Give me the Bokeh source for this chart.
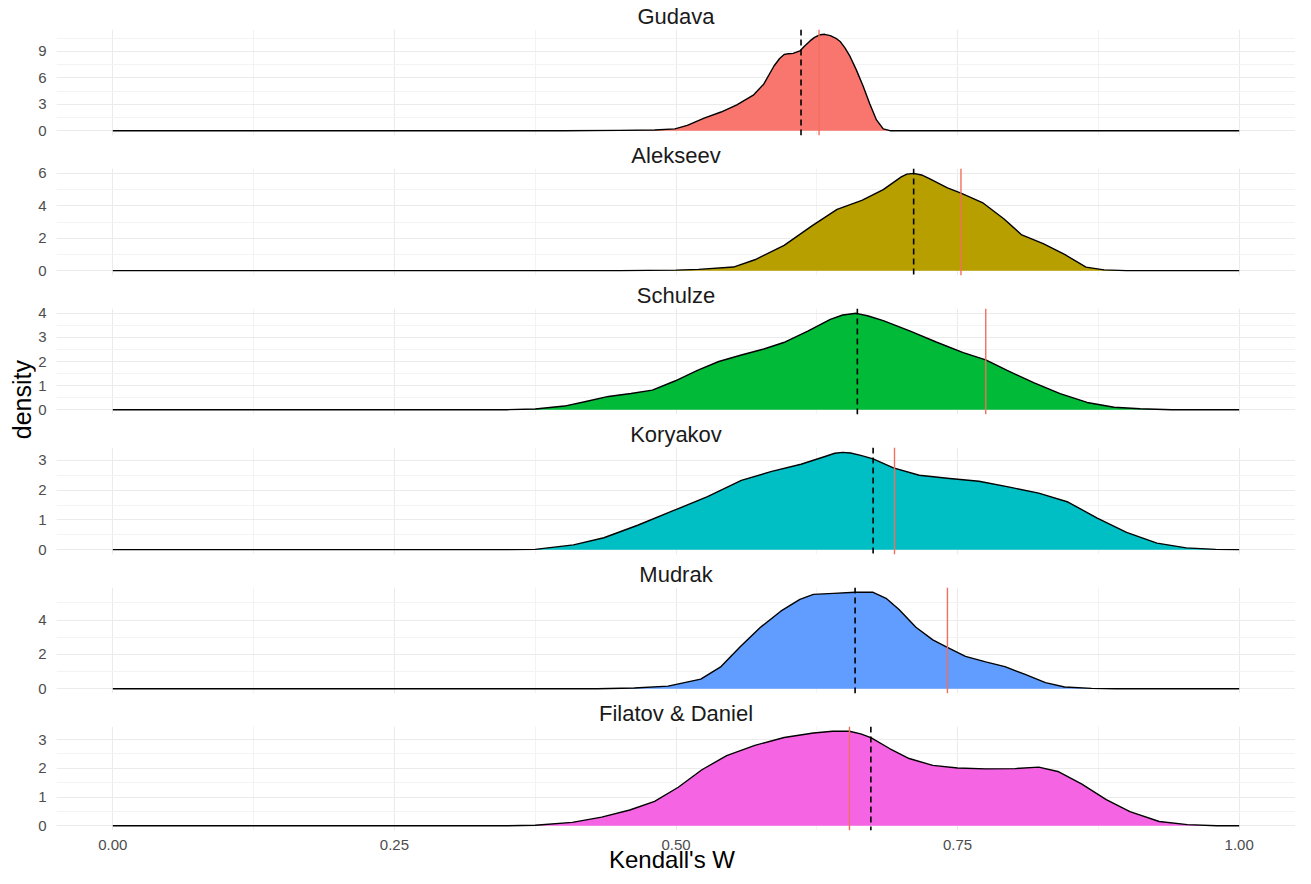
from bokeh.plotting import figure
from bokeh.layouts import row, column
from bokeh.models import Range1d, FixedTicker, Grid, Span, Div
from bokeh.embed import file_html
from bokeh.resources import INLINE

# ---------------- data ----------------
panel_names = ["Gudava", "Alekseev", "Schulze", "Koryakov", "Mudrak", "Filatov & Daniel"]
fill_colors = ["#F8766D", "#B79F00", "#00BA38", "#00BFC4", "#619CFF", "#F564E3"]

gudava_x = [0.0, 0.40, 0.45, 0.481, 0.499, 0.510, 0.525, 0.540, 0.554, 0.569, 0.578, 0.587, 0.592, 0.596,
            0.600, 0.604, 0.610, 0.614, 0.619, 0.623, 0.628, 0.632, 0.637, 0.642, 0.646, 0.650, 0.654,
            0.660, 0.666, 0.672, 0.678, 0.684, 0.690, 1.0]
gudava_y = [0.0, 0.0, 0.03, 0.08, 0.2, 0.61, 1.43, 2.12, 2.94, 4.08, 5.31, 7.35, 8.2, 8.65,
            8.75, 8.78, 9.06, 9.6, 10.2, 10.6, 10.9, 10.95, 10.8, 10.5, 10.1, 9.4, 8.57,
            6.94, 5.1, 3.06, 1.22, 0.2, 0.0, 0.0]

alekseev_x = [0.0, 0.45, 0.50, 0.52, 0.551, 0.570, 0.596, 0.621, 0.643, 0.665, 0.684, 0.700, 0.705, 0.711,
              0.718, 0.725, 0.741, 0.753, 0.772, 0.791, 0.807, 0.826, 0.845, 0.864, 0.88, 0.90, 1.0]
alekseev_y = [0.0, 0.0, 0.03, 0.08, 0.22, 0.67, 1.56, 2.78, 3.78, 4.33, 5.0, 5.78, 5.95, 6.0,
              5.9, 5.67, 5.1, 4.78, 4.2, 3.2, 2.2, 1.67, 1.0, 0.22, 0.05, 0.0, 0.0]

schulze_x = [0.0, 0.35, 0.375, 0.401, 0.420, 0.440, 0.460, 0.479, 0.499, 0.519, 0.538, 0.558, 0.578,
             0.597, 0.617, 0.637, 0.648, 0.660, 0.670, 0.684, 0.708, 0.731, 0.755, 0.775, 0.794, 0.818,
             0.841, 0.865, 0.889, 0.912, 0.94, 1.0]
schulze_y = [0.0, 0.0, 0.03, 0.15, 0.34, 0.55, 0.67, 0.81, 1.19, 1.63, 2.0, 2.27, 2.52,
             2.81, 3.26, 3.75, 3.93, 4.0, 3.9, 3.7, 3.26, 2.81, 2.37, 2.07, 1.63, 1.11,
             0.67, 0.30, 0.10, 0.04, 0.0, 0.0]

koryakov_x = [0.0, 0.35, 0.375, 0.409, 0.436, 0.466, 0.497, 0.528, 0.558, 0.585, 0.611, 0.633, 0.641,
              0.648, 0.655, 0.664, 0.675, 0.693, 0.716, 0.743, 0.769, 0.795, 0.822, 0.848, 0.874,
              0.900, 0.927, 0.953, 0.979, 1.0]
koryakov_y = [0.0, 0.0, 0.01, 0.16, 0.40, 0.82, 1.30, 1.78, 2.33, 2.63, 2.87, 3.14, 3.24,
              3.27, 3.25, 3.17, 3.05, 2.75, 2.5, 2.39, 2.3, 2.11, 1.9, 1.6, 1.06,
              0.58, 0.22, 0.06, 0.01, 0.0]

mudrak_x = [0.0, 0.43, 0.463, 0.493, 0.522, 0.540, 0.557, 0.575, 0.593, 0.610, 0.622, 0.640, 0.659,
            0.675, 0.687, 0.698, 0.713, 0.728, 0.740, 0.757, 0.775, 0.792, 0.810, 0.828, 0.845,
            0.869, 0.89, 1.0]
mudrak_y = [0.0, 0.0, 0.04, 0.15, 0.56, 1.29, 2.44, 3.58, 4.52, 5.21, 5.5, 5.56, 5.62,
            5.62, 5.25, 4.62, 3.58, 2.85, 2.44, 1.88, 1.56, 1.29, 0.83, 0.35, 0.1,
            0.02, 0.0, 0.0]

filatov_x = [0.0, 0.35, 0.375, 0.408, 0.434, 0.459, 0.481, 0.502, 0.523, 0.545, 0.570, 0.596, 0.622,
             0.639, 0.654, 0.664, 0.673, 0.690, 0.707, 0.728, 0.750, 0.775, 0.801, 0.822, 0.839,
             0.860, 0.882, 0.903, 0.929, 0.954, 0.980, 1.0]
filatov_y = [0.0, 0.0, 0.02, 0.12, 0.30, 0.55, 0.85, 1.34, 1.95, 2.44, 2.80, 3.07, 3.23,
             3.29, 3.29, 3.2, 3.07, 2.68, 2.34, 2.1, 2.01, 1.98, 1.99, 2.04, 1.89,
             1.46, 0.91, 0.49, 0.15, 0.04, 0.0, 0.0]

dashed_lines = [0.611, 0.711, 0.661, 0.675, 0.659, 0.673]
red_lines = [0.627, 0.753, 0.775, 0.694, 0.741, 0.654]

y_ticks = [[0, 3, 6, 9], [0, 2, 4, 6], [0, 1, 2, 3, 4], [0, 1, 2, 3], [0, 2, 4], [0, 1, 2, 3]]
x_ticks = [0.0, 0.25, 0.5, 0.75, 1.0]
x_tick_labels = ["0.00", "0.25", "0.50", "0.75", "1.00"]
x_label = "Kendall's W"
y_label = "density"

xs_all = [gudava_x, alekseev_x, schulze_x, koryakov_x, mudrak_x, filatov_x]
ys_all = [gudava_y, alekseev_y, schulze_y, koryakov_y, mudrak_y, filatov_y]

# ---------------- style ----------------
FONT = "Liberation Sans"
GRID_MAJ = "#EBEBEB"
GRID_MIN = "#F3F3F3"
FIG_W = 1260
PANEL_H = [139, 140, 139, 140, 139, 155]
XLAB_H = 16
TOTAL_H = sum(PANEL_H) + XLAB_H

x_minor = [(x_ticks[i] + x_ticks[i + 1]) / 2 for i in range(len(x_ticks) - 1)]

panels = []
n = len(panel_names)
for i in range(n):
    last = (i == n - 1)
    xs, ys = xs_all[i], ys_all[i]
    m = max(ys)
    yr = Range1d(-0.05 * m, 1.05 * m)
    p = figure(width=FIG_W, height=PANEL_H[i],
               x_range=Range1d(-0.05, 1.05), y_range=yr,
               output_backend="svg", toolbar_location=None, tools="",
               x_axis_location="below" if last else None, y_axis_location="left",
               min_border_left=14, min_border_right=0, min_border_top=28,
               min_border_bottom=0 if last else 4,
               title=panel_names[i])
    p.outline_line_color = None
    p.background_fill_color = "white"
    p.border_fill_color = "white"
    p.title.align = "center"
    p.title.text_font = FONT
    p.title.text_font_size = "22px"
    p.title.text_font_style = "normal"
    p.title.text_color = "#1A1A1A"
    p.title.standoff = 2

    # grids
    p.center = [r for r in p.center if not isinstance(r, Grid)]
    yt = y_ticks[i]
    ym = [(yt[k] + yt[k + 1]) / 2 for k in range(len(yt) - 1)]
    if yt[-1] + (yt[1] - yt[0]) / 2 <= 1.05 * m:
        ym.append(yt[-1] + (yt[1] - yt[0]) / 2)
    p.add_layout(Grid(dimension=0, ticker=FixedTicker(ticks=x_ticks, minor_ticks=x_minor),
                      grid_line_color=GRID_MAJ, grid_line_width=1.1,
                      minor_grid_line_color=GRID_MIN, minor_grid_line_width=1))
    p.add_layout(Grid(dimension=1, ticker=FixedTicker(ticks=yt, minor_ticks=ym),
                      grid_line_color=GRID_MAJ, grid_line_width=1.1,
                      minor_grid_line_color=GRID_MIN, minor_grid_line_width=1))

    # y axis
    ya = p.yaxis[0]
    ya.ticker = FixedTicker(ticks=yt)
    ya.major_tick_line_color = None
    ya.minor_tick_line_color = None
    ya.axis_line_color = None
    ya.major_label_text_font = FONT
    ya.major_label_text_font_size = "15px"
    ya.major_label_text_color = "#4D4D4D"
    ya.major_label_standoff = 4

    if last:
        xa = p.xaxis[0]
        xa.ticker = FixedTicker(ticks=x_ticks)
        xa.major_label_overrides = {t: s for t, s in zip(x_ticks, x_tick_labels)}
        xa.major_tick_line_color = None
        xa.minor_tick_line_color = None
        xa.axis_line_color = None
        xa.major_label_text_font = FONT
        xa.major_label_text_font_size = "15px"
        xa.major_label_text_color = "#4D4D4D"
        xa.major_label_standoff = 3

    p.varea(x=xs, y1=0, y2=ys, fill_color=fill_colors[i], fill_alpha=1.0)
    p.line(x=xs, y=ys, line_color="black", line_width=1.4, line_join="round")

    p.add_layout(Span(location=dashed_lines[i], dimension="height", line_color="black",
                      line_dash="6 4", line_width=1.6))
    p.add_layout(Span(location=red_lines[i], dimension="height", line_color="#F0705F",
                      line_width=1.4))
    panels.append(p)

# x-axis title (HTML text strip under the last panel)
xlab = Div(text=x_label, width=FIG_W, height=XLAB_H, margin=(0, 0, 0, 0),
           styles={"text-align": "center", "font-size": "24px", "font-family": FONT,
                   "line-height": "%dpx" % XLAB_H, "color": "black", "padding-left": "14px",
                   "box-sizing": "border-box", "white-space": "nowrap", "overflow": "visible"})

# y-axis title (HTML text strip left of the panels, rotated)
lab = Div(text=('<div style="writing-mode: vertical-rl; transform: rotate(180deg); '
                'margin-top: 360px; margin-left: 10px; font-size: 25px; line-height: 25px; '
                'font-family: %s; color: black; white-space: nowrap;">%s</div>') % (FONT, y_label),
          width=35, height=TOTAL_H, margin=(0, 0, 0, 0),
          styles={"overflow": "visible"})

layout = row(lab, column(*panels, xlab))
open("out.html", "w").write(file_html(layout, INLINE))
